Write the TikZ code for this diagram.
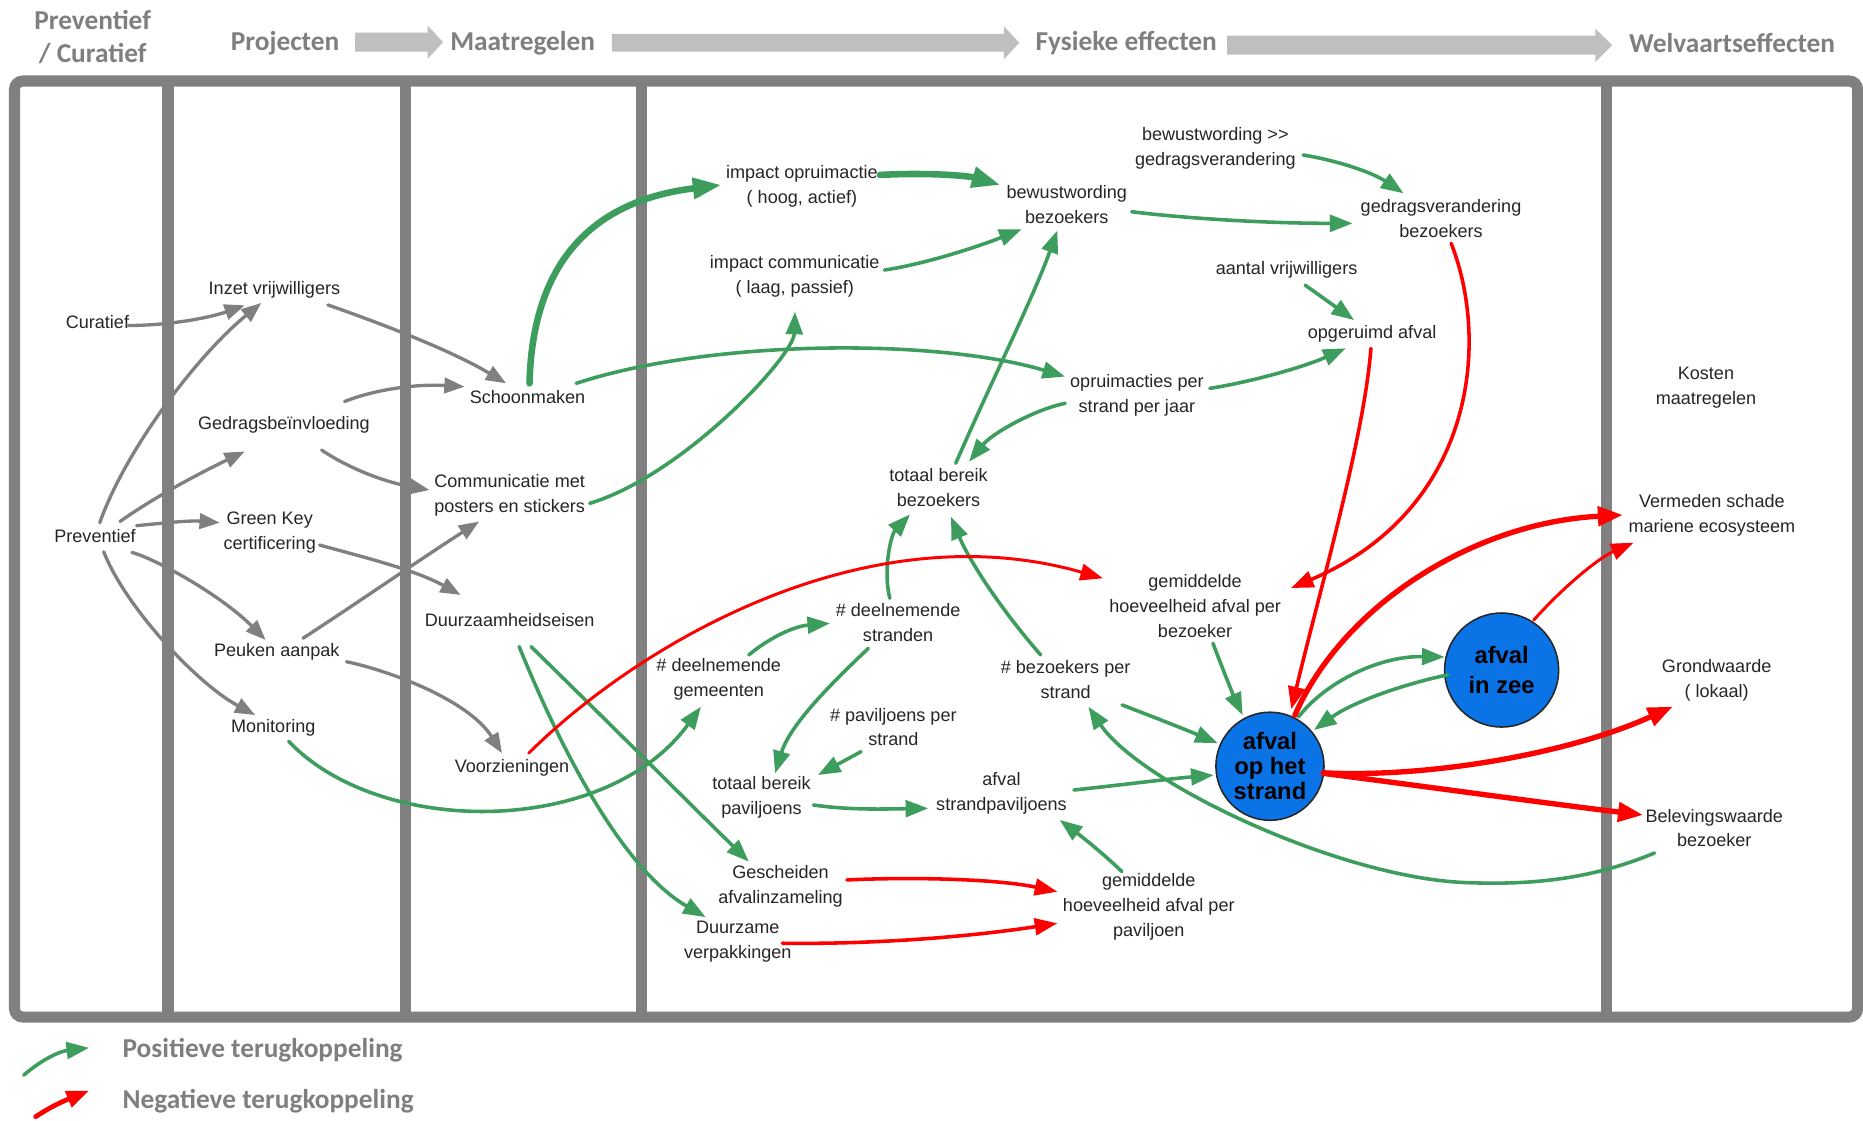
\documentclass[tikz,border=0pt]{standalone}
\usepackage{fontspec}
\setmainfont{Liberation Sans}
\newfontfamily\hdrfont{Carlito}
\usetikzlibrary{arrows.meta}
\definecolor{framegray}{RGB}{128,128,128}
\definecolor{arrgray}{RGB}{128,128,128}
\definecolor{hdrarrow}{RGB}{191,191,191}
\definecolor{hdrgray}{RGB}{127,127,127}
\definecolor{posgreen}{RGB}{60,157,93}
\definecolor{negred}{RGB}{255,0,0}
\definecolor{blobblue}{RGB}{10,115,230}
\definecolor{txt}{RGB}{38,38,38}
\tikzset{
 lbl/.style={font=\fontsize{15.2}{21}\selectfont, align=center, inner sep=0pt, text=txt},
 grayline/.style={draw=arrgray, line width=2.8pt, line cap=round, -{Triangle[length=17pt,width=13pt]}},
 posline/.style={draw=posgreen, line width=3pt, line cap=round, -{Triangle[length=19pt,width=14pt]}},
 posthick/.style={posline, line width=5.5pt, -{Triangle[length=24pt,width=17pt]}},
 negline/.style={draw=negred, line width=3pt, line cap=round, -{Triangle[length=19pt,width=14pt]}},
 negthin/.style={negline, line width=2.5pt},
 negthick/.style={negline, line width=4.5pt, -{Triangle[length=21pt,width=16pt]}},
 blob/.style={circle, draw=black!85, line width=1.3pt, fill=blobblue, inner sep=0pt, align=center, text=black, font=\bfseries\fontsize{20}{21}\selectfont},
 hdr/.style={font=\hdrfont\bfseries\fontsize{23}{28}\selectfont, text=hdrgray, inner sep=0pt, align=center},
}
\begin{document}
\begin{tikzpicture}[x=1pt,y=-1pt]
\useasboundingbox (0,0) rectangle (1568.2,943.6);
\fill[white] (0,0) rectangle (1568.2,943.6);

% header arrows
\fill[hdrarrow] (299,27.5) -- (360,27.5) -- (360,21.5) -- (373,35.5) -- (360,49.5) -- (360,43.5) -- (299,43.5) -- cycle;
\fill[hdrarrow] (515,28.5) -- (845,28.5) -- (845,22) -- (858,36) -- (845,50) -- (845,43.5) -- (515,43.5) -- cycle;
\fill[hdrarrow] (1033,30) -- (1343,30) -- (1343,24) -- (1357,38) -- (1343,52) -- (1343,46) -- (1033,46) -- cycle;

% headers
\node[hdr] (hprev) at (78,31) {Preventief\\/ Curatief};
\node[hdr] (hproj) at (240,36) {Projecten};
\node[hdr] (hmaat) at (440,36) {Maatregelen};
\node[hdr] (hfys) at (948,36) {Fysieke effecten};
\node[hdr] (hwel) at (1458,36) {Welvaartseffecten};

% frame
\draw[framegray,line width=9.3pt,rounded corners=7pt] (12.2,68.2) rectangle (1563.6,856.1);
\foreach \xx in {141.4,341.3,540.0,1352.3} \draw[framegray,line width=9.3pt] (\xx,68.2) -- (\xx,856.1);

% nodes
\node[lbl] (cur) at (82,271) {Curatief};
\node[lbl] (prev) at (80,451) {Preventief};
\node[lbl] (inzet) at (231,244) {Inzet vrijwilligers};
\node[lbl] (gedrag) at (239,358) {Gedragsbeïnvloeding};
\node[lbl] (green) at (227,448) {Green Key\\certificering};
\node[lbl] (peuken) at (233,549) {Peuken aanpak};
\node[lbl] (monit) at (230,613) {Monitoring};
\node[lbl] (schoon) at (444,334) {Schoonmaken};
\node[lbl] (comm) at (429,417) {Communicatie met\\posters en stickers};
\node[lbl] (duurz) at (429,522) {Duurzaamheidseisen};
\node[lbl] (voorz) at (431,646) {Voorzieningen};
\node[lbl] (impop) at (675,157) {impact opruimactie\\( hoog, actief)};
\node[lbl] (impcom) at (669,233) {impact communicatie\\( laag, passief)};
\node[lbl] (bewbez) at (898,172) {bewustwording\\bezoekers};
\node[lbl] (bewged) at (1023,125) {bewustwording >\kern0pt>\\gedragsverandering};
\node[lbl] (gedbez) at (1213,184) {gedragsverandering\\bezoekers};
\node[lbl] (aantal) at (1083,227) {aantal vrijwilligers};
\node[lbl] (opger) at (1155,281) {opgeruimd afval};
\node[lbl] (opruim) at (957,333) {opruimacties per\\strand per jaar};
\node[lbl] (totbez) at (790,410) {totaal bereik\\bezoekers};
\node[lbl] (kosten) at (1436,326) {Kosten\\maatregelen};
\node[lbl] (verm) at (1441,434) {Vermeden schade\\mariene ecosysteem};
\node[lbl] (gemibez) at (1006,510) {gemiddelde\\hoeveelheid afval per\\bezoeker};
\node[lbl] (deelstr) at (756,524) {\# deelnemende\\stranden};
\node[lbl] (deelgem) at (605,572) {\# deelnemende\\gemeenten};
\node[lbl] (bezstr) at (897,572) {\# bezoekers per\\strand};
\node[lbl] (pavstr) at (752,612) {\# paviljoens per\\strand};
\node[lbl] (totpav) at (641,671) {totaal bereik\\paviljoens};
\node[lbl] (afvpav) at (843,668) {afval\\strandpaviljoens};
\node[lbl] (gesch) at (657,746) {Gescheiden\\afvalinzameling};
\node[lbl] (duurzame) at (621,793) {Duurzame\\verpakkingen};
\node[lbl] (gemipav) at (967,763) {gemiddelde\\hoeveelheid afval per\\paviljoen};
\node[lbl] (grond) at (1445,573) {Grondwaarde\\( lokaal)};
\node[lbl] (belev) at (1443,697) {Belevingswaarde\\bezoeker};
\node[blob, minimum size=91pt] (strand) at (1069,645) {afval\\op het\\strand};
\node[blob, minimum size=96pt, font=\bfseries\fontsize{20}{26}\selectfont] (zee) at (1264,564) {afval\\in zee};

% gray connectors
\draw[grayline] ([shift={(26,3)}]cur.center) .. controls (140,274) and (175,268) .. ([shift={(-25,13)}]inzet.center);
\draw[grayline] ([shift={(4,-11)}]prev.center) .. controls (105,380) and (165,300) .. ([shift={(-11,11)}]inzet.center);
\draw[grayline] ([shift={(21,-12)}]prev.center) .. controls (135,415) and (175,395) .. ([shift={(-33,22)}]gedrag.center);
\draw[grayline] ([shift={(35,-8.5)}]prev.center) .. controls (140,440) and (160,438) .. ([shift={(-42,-8)}]green.center);
\draw[grayline] ([shift={(31,14)}]prev.center) .. controls (130,470) and (185,500) .. ([shift={(-9.4,-10.3)}]peuken.center);
\draw[grayline] ([shift={(7.3,13.4)}]prev.center) .. controls (105,510) and (165,575) .. ([shift={(-15.2,-11.1)}]monit.center);
\draw[grayline] ([shift={(45,12.7)}]inzet.center) .. controls (320,272) and (380,295) .. ([shift={(-18,-11.3)}]schoon.center);
\draw[grayline] ([shift={(51,-20)}]gedrag.center) .. controls (315,328) and (350,323) .. ([shift={(-53,-8.5)}]schoon.center);
\draw[grayline] ([shift={(31.7,20.8)}]gedrag.center) .. controls (290,392) and (320,405) .. ([shift={(-67.5,-4.5)}]comm.center);
\draw[grayline] ([shift={(42,10.8)}]green.center) .. controls (310,470) and (350,480) .. ([shift={(-41.3,-21.2)}]duurz.center);
\draw[grayline] ([shift={(22,-11.7)}]peuken.center) .. controls (300,508) and (355,470) .. ([shift={(-25.7,22)}]comm.center);
\draw[grayline] ([shift={(58.6,8)}]peuken.center) .. controls (330,565) and (395,590) .. ([shift={(-8.4,-12)}]voorz.center);

% green connectors
\draw[posthick] ([shift={(1.7,-11.3)}]schoon.center) .. controls (448,230) and (490,170) .. ([shift={(-67.8,-1.3)}]impop.center);
\draw[posthick] ([shift={(65.7,-9.7)}]impop.center) .. controls (780,145) and (815,148) .. ([shift={(-56,-16.3)}]bewbez.center);
\draw[posline] ([shift={(75.5,-5.7)}]impcom.center) .. controls (780,222) and (825,207) .. ([shift={(-38,21)}]bewbez.center);
\draw[posline] ([shift={(41,-11.3)}]schoon.center) .. controls (600,285) and (790,285) .. ([shift={(-60.5,-16)}]opruim.center);
\draw[posline] ([shift={(67.4,6.7)}]comm.center) .. controls (575,400) and (668,300) .. ([shift={(0.2,29.4)}]impcom.center);
\draw[posline] ([shift={(13,11)}]monit.center) .. controls (320,705) and (510,705) .. ([shift={(-15,22.9)}]deelgem.center);
\draw[posline] ([shift={(18,22.3)}]duurz.center) .. controls (508,604) and (569,665) .. ([shift={(-26.7,-20.7)}]gesch.center);
\draw[posline] ([shift={(8,22.3)}]duurz.center) .. controls (480,650) and (530,735) .. ([shift={(-27,-21)}]duurzame.center);
\draw[posline] ([shift={(54.5,6.2)}]bewbez.center) .. controls (990,183) and (1060,188) .. ([shift={(-74.5,4)}]gedbez.center);
\draw[posline] ([shift={(74,5.5)}]bewged.center) .. controls (1125,135) and (1155,145) .. ([shift={(-31.6,-21.3)}]gedbez.center);
\draw[posline] ([shift={(15.6,13)}]aantal.center) -- ([shift={(-15.2,-11.6)}]opger.center);
\draw[posline] ([shift={(61.4,-6.1)}]opruim.center) .. controls (1050,322) and (1095,310) .. ([shift={(-22.3,12.2)}]opger.center);
\draw[posline] ([shift={(-60.4,6.5)}]opruim.center) .. controls (870,345) and (835,365) .. ([shift={(25.7,-21.4)}]totbez.center);
\draw[posline] ([shift={(14.5,-20)}]totbez.center) .. controls (835,320) and (870,250) .. ([shift={(-8,22)}]bewbez.center);
\draw[posline] ([shift={(-7,-20.4)}]deelstr.center) .. controls (743,480) and (750,450) .. ([shift={(-24,23)}]totbez.center);
\draw[posline] ([shift={(-21,-20.7)}]bezstr.center) .. controls (840,510) and (815,470) .. ([shift={(10.5,25)}]totbez.center);
\draw[posline] ([shift={(25.3,-20.7)}]deelgem.center) .. controls (650,535) and (670,527) .. ([shift={(-57.3,0.7)}]deelstr.center);
\draw[posline] ([shift={(-25,21.7)}]deelstr.center) .. controls (700,575) and (665,610) .. ([shift={(11.4,-20)}]totpav.center);
\draw[posline] ([shift={(-27.2,20.7)}]pavstr.center) -- ([shift={(47.5,-18.6)}]totpav.center);
\draw[posline] ([shift={(43.7,6.6)}]totpav.center) .. controls (715,682) and (745,681) .. ([shift={(-61.7,12.4)}]afvpav.center);
\draw[posline] ([shift={(-22.6,-29.3)}]gemipav.center) .. controls (925,715) and (905,700) .. ([shift={(49,22.2)}]afvpav.center);
\draw[posline] ([shift={(61,-3)}]afvpav.center) .. controls (950,660) and (990,655) .. ([shift={(-47.4,7.5)}]strand.center);
\draw[posline] ([shift={(47.5,21.4)}]bezstr.center) .. controls (975,605) and (1000,615) .. ([shift={(-44,-19.4)}]strand.center);
\draw[posline] ([shift={(15,31.5)}]gemibez.center) .. controls (1028,560) and (1038,585) .. ([shift={(-23,-43)}]strand.center);
\draw[posline] ([shift={(24,-41.5)}]strand.center) .. controls (1115,575) and (1160,552) .. ([shift={(-48,-11)}]zee.center);
\draw[posline] ([shift={(-45,4)}]zee.center) .. controls (1185,575) and (1140,590) .. ([shift={(37,-30.5)}]strand.center);
\draw[posline] ([shift={(-50.3,21)}]belev.center) .. controls (1340,740) and (1290,745) .. (1236,743) .. controls (1130,740) and (960,660) .. ([shift={(19.2,22.9)}]bezstr.center);

% red connectors
\draw[negthin] ([shift={(14,-12)}]voorz.center) .. controls (540,540) and (730,430) .. ([shift={(-77.6,-23.2)}]gemibez.center);
\draw[negline] ([shift={(55.9,-5.3)}]gesch.center) .. controls (770,738) and (840,740) .. ([shift={(-77,-12.4)}]gemipav.center);
\draw[negline] ([shift={(37.5,1)}]duurzame.center) .. controls (740,795) and (820,788) .. ([shift={(-77,14.2)}]gemipav.center);
\draw[negline] ([shift={(-1,12.2)}]opger.center) .. controls (1148,370) and (1110,500) .. ([shift={(18,-48)}]strand.center);
\draw[negline] ([shift={(8.5,20.8)}]gedbez.center) .. controls (1255,290) and (1240,430) .. ([shift={(80.7,-15)}]gemibez.center);
\draw[negthick] ([shift={(21,-43)}]strand.center) .. controls (1130,510) and (1240,440) .. ([shift={(-75,-0.5)}]verm.center);
\draw[negthin] ([shift={(27,-42)}]zee.center) .. controls (1315,495) and (1345,470) .. ([shift={(-66,22.8)}]verm.center);
\draw[negthick] ([shift={(45,5.5)}]strand.center) .. controls (1200,655) and (1320,635) .. ([shift={(-37,21.8)}]grond.center);
\draw[negthick] ([shift={(45,6)}]strand.center) .. controls (1200,662) and (1300,676) .. ([shift={(-60,-11)}]belev.center);

% legend
\coordinate (lg1) at (20,905);
\coordinate (lg2) at (75,882);
\coordinate (lr1) at (30,940);
\coordinate (lr2) at (75,918);
\draw[posline] (lg1) .. controls (35,892) and (50,885) .. (lg2);
\draw[negline, line width=4pt] (lr1) .. controls (45,930) and (58,925) .. (lr2);
\node[hdr, anchor=west] (lpos) at (103,884) {Positieve terugkoppeling};
\node[hdr, anchor=west] (lneg) at (103,927) {Negatieve terugkoppeling};
\end{tikzpicture}
\end{document}
